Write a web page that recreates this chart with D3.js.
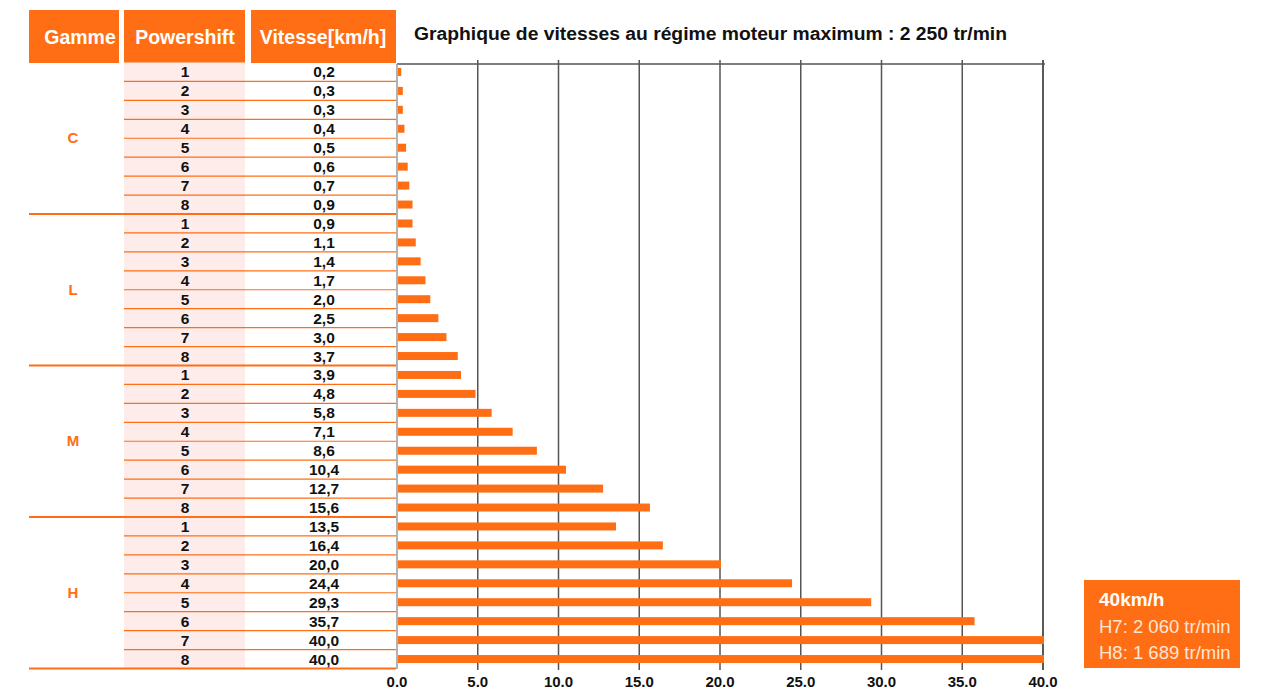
<!DOCTYPE html>
<html>
<head>
<meta charset="utf-8">
<script src="https://cdn.jsdelivr.net/npm/d3@7"></script>
<style>
  body { margin: 0; background: #fff; }
  svg { font-family: "Liberation Sans", Arial, Helvetica, sans-serif; }
</style>
</head>
<body>
<svg id="chart" width="1278" height="689"></svg>
<script>
// data
const gammes = ["C", "L", "M", "H"];
const powershift = [1, 2, 3, 4, 5, 6, 7, 8];
const vitesseC = [0.2, 0.3, 0.3, 0.4, 0.5, 0.6, 0.7, 0.9];
const vitesseL = [0.9, 1.1, 1.4, 1.7, 2.0, 2.5, 3.0, 3.7];
const vitesseM = [3.9, 4.8, 5.8, 7.1, 8.6, 10.4, 12.7, 15.6];
const vitesseH = [13.5, 16.4, 20.0, 24.4, 29.3, 35.7, 40.0, 40.0];
const xTicks = [0, 5, 10, 15, 20, 25, 30, 35, 40];
const headers = ["Gamme", "Powershift", "Vitesse[km/h]"];
const title = "Graphique de vitesses au régime moteur maximum : 2 250 tr/min";
const noteLines = ["40km/h", "H7: 2 060 tr/min", "H8: 1 689 tr/min"];

const orange = "#ff6e14";
const allSpeeds = [vitesseC, vitesseL, vitesseM, vitesseH];

// flatten rows
const rows = [];
gammes.forEach((g, gi) => {
  powershift.forEach((p, pi) => {
    rows.push({ gamme: g, ps: p, v: allSpeeds[gi][pi], id: g + p });
  });
});

const svg = d3.select("#chart");
const tableTop = 62.5, tableBottom = 668.5;

const y = d3.scaleBand()
  .domain(rows.map(d => d.id))
  .range([tableTop, tableBottom]);

const x = d3.scaleLinear().domain([0, 40]).range([397, 1043]);

// header boxes
const cols = [
  { x0: 29, x1: 119, tx: 80 },
  { x0: 124, x1: 245, tx: 185 },
  { x0: 251, x1: 396, tx: 323 }
];
headers.forEach((h, i) => {
  svg.append("rect")
    .attr("x", cols[i].x0).attr("y", 10)
    .attr("width", cols[i].x1 - cols[i].x0).attr("height", 53)
    .attr("fill", orange);
  svg.append("text")
    .attr("x", cols[i].tx)
    .attr("y", 44)
    .attr("text-anchor", "middle")
    .attr("fill", "#fff")
    .attr("font-weight", "bold")
    .attr("font-size", 19.5)
    .text(h);
});

// pink powershift column
svg.append("rect")
  .attr("x", 124).attr("y", tableTop)
  .attr("width", 121).attr("height", tableBottom - tableTop)
  .attr("fill", "#fdecea");

// row separators
svg.selectAll(".rowline")
  .data(rows.filter((d, i) => (i + 1) % 8 !== 0))
  .join("line")
  .attr("class", "rowline")
  .attr("x1", 124).attr("x2", 396)
  .attr("y1", d => y(d.id) + y.bandwidth())
  .attr("y2", d => y(d.id) + y.bandwidth())
  .attr("stroke", orange).attr("stroke-width", 1.2);

// group separators
svg.selectAll(".groupline")
  .data(gammes)
  .join("line")
  .attr("class", "groupline")
  .attr("x1", 29).attr("x2", 396)
  .attr("y1", g => y(g + 8) + y.bandwidth())
  .attr("y2", g => y(g + 8) + y.bandwidth())
  .attr("stroke", orange).attr("stroke-width", 2.2);

// gamme labels
svg.selectAll(".gamme")
  .data(gammes)
  .join("text")
  .attr("class", "gamme")
  .attr("x", 73)
  .attr("y", g => (y(g + 1) + y(g + 8) + y.bandwidth()) / 2 + 5)
  .attr("text-anchor", "middle")
  .attr("fill", orange)
  .attr("font-weight", "bold")
  .attr("font-size", 15)
  .text(g => g);

// powershift and vitesse text
svg.selectAll(".ps")
  .data(rows)
  .join("text")
  .attr("class", "ps")
  .attr("x", 185)
  .attr("y", d => y(d.id) + y.bandwidth() / 2 + 5.5)
  .attr("text-anchor", "middle")
  .attr("font-weight", "bold")
  .attr("font-size", 15.5)
  .attr("fill", "#111")
  .text(d => d.ps);

svg.selectAll(".vit")
  .data(rows)
  .join("text")
  .attr("class", "vit")
  .attr("x", 324)
  .attr("y", d => y(d.id) + y.bandwidth() / 2 + 5.5)
  .attr("text-anchor", "middle")
  .attr("font-weight", "bold")
  .attr("font-size", 15.5)
  .attr("fill", "#111")
  .text(d => d.v.toFixed(1).replace(".", ","));

// title
svg.append("text")
  .attr("x", 414).attr("y", 40)
  .attr("font-weight", "bold")
  .attr("font-size", 18)
  .attr("textLength", 593)
  .attr("lengthAdjust", "spacingAndGlyphs")
  .attr("fill", "#111")
  .text(title);

// grid lines
svg.selectAll(".grid")
  .data(xTicks.slice(1))
  .join("line")
  .attr("class", "grid")
  .attr("x1", d => x(d)).attr("x2", d => x(d))
  .attr("y1", 60).attr("y2", 670)
  .attr("stroke", d => d === 40 ? "#222" : "#555")
  .attr("stroke-width", 1.5);

// top line and left axis
svg.append("line")
  .attr("x1", 397).attr("x2", 1045).attr("y1", 64).attr("y2", 64)
  .attr("stroke", "#555").attr("stroke-width", 1.5);
svg.append("line")
  .attr("x1", 397).attr("x2", 397).attr("y1", 64).attr("y2", 669)
  .attr("stroke", "#999").attr("stroke-width", 1.5);

// bars
svg.selectAll(".bar")
  .data(rows)
  .join("rect")
  .attr("class", "bar")
  .attr("x", x(0) + 1)
  .attr("y", d => y(d.id) + y.bandwidth() / 2 - 4)
  .attr("width", d => x(d.v) - x(0))
  .attr("height", 8)
  .attr("fill", orange);

// x tick labels
svg.selectAll(".tick")
  .data(xTicks)
  .join("text")
  .attr("class", "tick")
  .attr("x", d => x(d))
  .attr("y", 687)
  .attr("text-anchor", "middle")
  .attr("font-weight", "bold")
  .attr("font-size", 15)
  .attr("fill", "#111")
  .text(d => d.toFixed(1));

// note box
svg.append("rect")
  .attr("x", 1084).attr("y", 580)
  .attr("width", 156).attr("height", 88)
  .attr("fill", orange);
noteLines.forEach((t, i) => {
  svg.append("text")
    .attr("x", 1099)
    .attr("y", 606 + i * 26.5)
    .attr("fill", i === 0 ? "#fff" : "#ffe6d6")
    .attr("font-weight", i === 0 ? "bold" : "normal")
    .attr("font-size", i === 0 ? 19 : 18.5)
    .text(t);
});
</script>
</body>
</html>
